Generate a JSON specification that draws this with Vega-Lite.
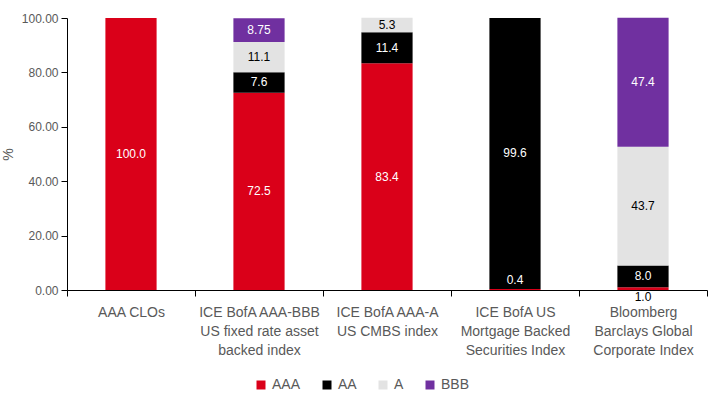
{
  "$schema": "https://vega.github.io/schema/vega-lite/v6.json",
  "width": 640,
  "height": 272,
  "autosize": {"type": "none"},
  "padding": {"left": 67, "top": 18, "right": 5, "bottom": 109},
  "config": {"font": "Liberation Sans", "view": {"stroke": null}},
  "data": {
    "values": [
      {"category": "AAA CLOs", "rating": "AAA", "value": 100.0, "ord": 1, "lbl": "100.0"},
      {"category": "ICE BofA AAA-BBB|US fixed rate asset|backed index", "rating": "AAA", "value": 72.5, "ord": 1, "lbl": "72.5"},
      {"category": "ICE BofA AAA-BBB|US fixed rate asset|backed index", "rating": "AA", "value": 7.6, "ord": 2, "lbl": "7.6"},
      {"category": "ICE BofA AAA-BBB|US fixed rate asset|backed index", "rating": "A", "value": 11.1, "ord": 3, "lbl": "11.1"},
      {"category": "ICE BofA AAA-BBB|US fixed rate asset|backed index", "rating": "BBB", "value": 8.75, "ord": 4, "lbl": "8.75"},
      {"category": "ICE BofA AAA-A|US CMBS index", "rating": "AAA", "value": 83.4, "ord": 1, "lbl": "83.4"},
      {"category": "ICE BofA AAA-A|US CMBS index", "rating": "AA", "value": 11.4, "ord": 2, "lbl": "11.4"},
      {"category": "ICE BofA AAA-A|US CMBS index", "rating": "A", "value": 5.3, "ord": 3, "lbl": "5.3"},
      {"category": "ICE BofA US|Mortgage Backed|Securities Index", "rating": "AAA", "value": 0.4, "ord": 1, "lbl": "0.4"},
      {"category": "ICE BofA US|Mortgage Backed|Securities Index", "rating": "AA", "value": 99.6, "ord": 2, "lbl": "99.6"},
      {"category": "Bloomberg|Barclays Global|Corporate Index", "rating": "AAA", "value": 1.0, "ord": 1, "lbl": "1.0"},
      {"category": "Bloomberg|Barclays Global|Corporate Index", "rating": "AA", "value": 8.0, "ord": 2, "lbl": "8.0"},
      {"category": "Bloomberg|Barclays Global|Corporate Index", "rating": "A", "value": 43.7, "ord": 3, "lbl": "43.7"},
      {"category": "Bloomberg|Barclays Global|Corporate Index", "rating": "BBB", "value": 47.4, "ord": 4, "lbl": "47.4"}
    ]
  },
  "encoding": {
    "x": {
      "field": "category",
      "type": "nominal",
      "sort": null,
      "scale": {"paddingInner": 0, "paddingOuter": 0},
      "axis": {
        "title": null,
        "labelAngle": 0,
        "labelExpr": "split(datum.label, '|')",
        "labelFontSize": 14,
        "labelColor": "#595959",
        "labelLineHeight": 19,
        "labelPadding": 9,
        "labelBaseline": "top",
        "tickBand": "extent",
        "tickSize": 6,
        "tickColor": "#000000",
        "domainColor": "#000000",
        "grid": false
      }
    }
  },
  "resolve": {"axis": {"y": "independent"}},
  "layer": [
    {
      "mark": {"type": "bar", "width": {"band": 0.4}},
      "encoding": {
        "y": {
          "field": "value",
          "type": "quantitative",
          "stack": "zero",
          "scale": {"domain": [0, 100], "nice": false},
          "axis": {
            "title": "%",
            "titleFontSize": 14,
            "titleFontWeight": "normal",
            "titleColor": "#595959",
            "titlePadding": 6,
            "values": [0, 20, 40, 60, 80, 100],
            "format": ".2f",
            "labelFontSize": 12,
            "labelColor": "#595959",
            "labelPadding": 3,
            "tickSize": 6,
            "tickColor": "#000000",
            "domainColor": "#000000",
            "grid": false
          }
        },
        "color": {
          "field": "rating",
          "type": "nominal",
          "scale": {"domain": ["AAA", "AA", "A", "BBB"], "range": ["#DA0019", "#000000", "#E3E3E3", "#7030A0"]},
          "legend": {
            "title": null,
            "orient": "none",
            "legendX": 187,
            "legendY": 360,
            "direction": "horizontal",
            "symbolType": "square",
            "symbolSize": 81,
            "symbolStrokeWidth": 0,
            "labelFontSize": 14,
            "labelColor": "#595959",
            "labelOffset": 4,
            "columnPadding": 19
          }
        },
        "order": {"field": "ord", "type": "quantitative"}
      }
    },
    {
      "transform": [
        {"stack": "value", "groupby": ["category"], "sort": [{"field": "ord"}], "as": ["y0", "y1"]},
        {"calculate": "(datum.y0 + datum.y1) / 2", "as": "mid"},
        {"filter": "datum.value >= 2"}
      ],
      "mark": {"type": "text", "fontSize": 12, "baseline": "middle"},
      "encoding": {
        "y": {"field": "mid", "type": "quantitative", "axis": null},
        "text": {"field": "lbl"},
        "color": {"condition": {"test": "datum.rating == 'A'", "value": "#000000"}, "value": "#FFFFFF"}
      }
    },
    {
      "transform": [
        {"stack": "value", "groupby": ["category"], "sort": [{"field": "ord"}], "as": ["y0", "y1"]},
        {"calculate": "(datum.y0 + datum.y1) / 2", "as": "mid"},
        {"filter": "datum.value < 0.5"}
      ],
      "mark": {"type": "text", "fontSize": 12, "baseline": "middle", "dy": -9, "color": "#FFFFFF"},
      "encoding": {
        "y": {"field": "mid", "type": "quantitative", "axis": null},
        "text": {"field": "lbl"}
      }
    },
    {
      "transform": [
        {"stack": "value", "groupby": ["category"], "sort": [{"field": "ord"}], "as": ["y0", "y1"]},
        {"calculate": "(datum.y0 + datum.y1) / 2", "as": "mid"},
        {"filter": "datum.value >= 0.5 && datum.value < 2"}
      ],
      "mark": {"type": "text", "fontSize": 12, "baseline": "middle", "dy": 8, "color": "#000000"},
      "encoding": {
        "y": {"field": "mid", "type": "quantitative", "axis": null},
        "text": {"field": "lbl"}
      }
    }
  ]
}
